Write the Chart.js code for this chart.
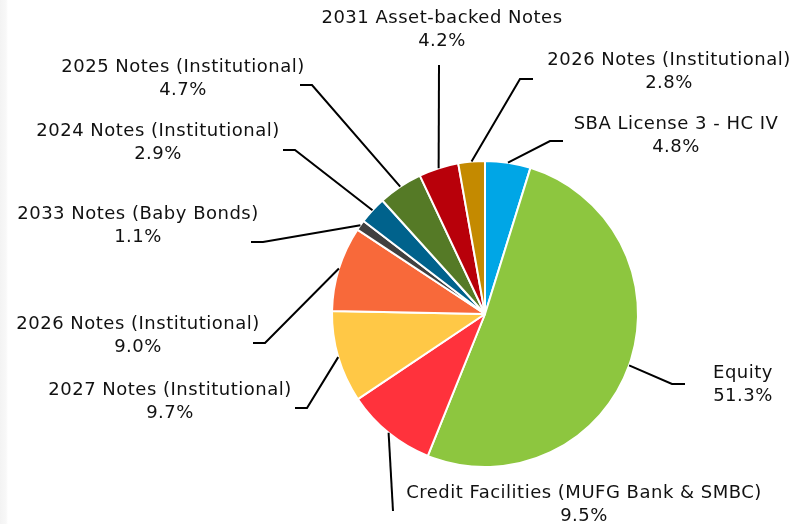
<!DOCTYPE html>
<html>
<head>
<meta charset="utf-8">
<script src="https://cdn.jsdelivr.net/npm/chart.js@4/dist/chart.umd.min.js"></script>
<style>
  html, body { margin: 0; padding: 0; }
  body { width: 805px; height: 524px; background: linear-gradient(to right, #f3f3f3 0px, #f8f8f8 6px, #ffffff 8px); overflow: hidden; }
  #wrap { position: absolute; left: 0; top: 0; width: 805px; height: 524px; }
</style>
</head>
<body>
<div id="wrap"><canvas id="c" width="805" height="524"></canvas></div>
<script>
// ---- data ----
const categories = [
  "SBA License 3 - HC IV",
  "Equity",
  "Credit Facilities (MUFG Bank & SMBC)",
  "2027 Notes (Institutional)",
  "2026 Notes (Institutional)",
  "2033 Notes (Baby Bonds)",
  "2024 Notes (Institutional)",
  "2025 Notes (Institutional)",
  "2031 Asset-backed Notes",
  "2026 Notes (Institutional)"
];
const shares = [4.8, 51.3, 9.5, 9.7, 9.0, 1.1, 2.9, 4.7, 4.2, 2.8];
const sliceColors = ["#00A6E6", "#8DC63F", "#FF323C", "#FFC846", "#F8693A", "#404040", "#00628C", "#557A26", "#B8000A", "#C48A00"];

// label placement (text centre x, first-line y; elbow point; tail end)
const labelPlacement = [
  { tx: 676, ty: 124, ex: 550, ey: 141, hx: 563 },
  { tx: 743, ty: 373, ex: 672, ey: 384, hx: 685 },
  { tx: 584, ty: 493, ex: 393, ey: 511, hx: 393 },
  { tx: 170, ty: 390, ex: 307, ey: 408, hx: 295 },
  { tx: 138, ty: 324, ex: 265, ey: 343, hx: 253 },
  { tx: 138, ty: 214, ex: 263, ey: 242, hx: 251 },
  { tx: 158, ty: 131, ex: 295, ey: 150, hx: 283 },
  { tx: 183, ty: 67,  ex: 312, ey: 85,  hx: 300 },
  { tx: 442, ty: 18,  ex: 439, ey: 65,  hx: 439 },
  { tx: 669, ty: 60,  ex: 520, ey: 79,  hx: 533 }
];

const leaderLabels = {
  id: 'leaderLabels',
  afterDatasetsDraw(chart) {
    const ctx = chart.ctx;
    const meta = chart.getDatasetMeta(0);
    ctx.save();
    meta.data.forEach((arc, i) => {
      const p = labelPlacement[i];
      const mid = (arc.startAngle + arc.endAngle) / 2;
      const sx = arc.x + Math.cos(mid) * arc.outerRadius;
      const sy = arc.y + Math.sin(mid) * arc.outerRadius;
      ctx.strokeStyle = '#000';
      ctx.lineWidth = 2;
      ctx.beginPath();
      ctx.moveTo(sx, sy);
      ctx.lineTo(p.ex, p.ey);
      ctx.lineTo(p.hx, p.ey);
      ctx.stroke();
      ctx.fillStyle = '#111111';
      ctx.font = '18px "DejaVu Sans", Verdana, sans-serif';
      if ('letterSpacing' in ctx) ctx.letterSpacing = '0.5px';
      ctx.textAlign = 'center';
      ctx.textBaseline = 'middle';
      ctx.fillText(chart.data.labels[i], p.tx, p.ty);
      ctx.fillText(shares[i].toFixed(1) + '%', p.tx, p.ty + 23);
    });
    ctx.restore();
  }
};

new Chart(document.getElementById('c'), {
  type: 'pie',
  data: {
    labels: categories,
    datasets: [{
      data: shares,
      backgroundColor: sliceColors,
      borderColor: '#ffffff',
      borderWidth: 2,
      radius: 153
    }]
  },
  options: {
    responsive: false,
    animation: false,
    layout: { padding: { left: 332, right: 167, top: 161, bottom: 57 } },
    plugins: {
      legend: { display: false },
      tooltip: { enabled: false }
    }
  },
  plugins: [leaderLabels]
});
</script>
</body>
</html>
